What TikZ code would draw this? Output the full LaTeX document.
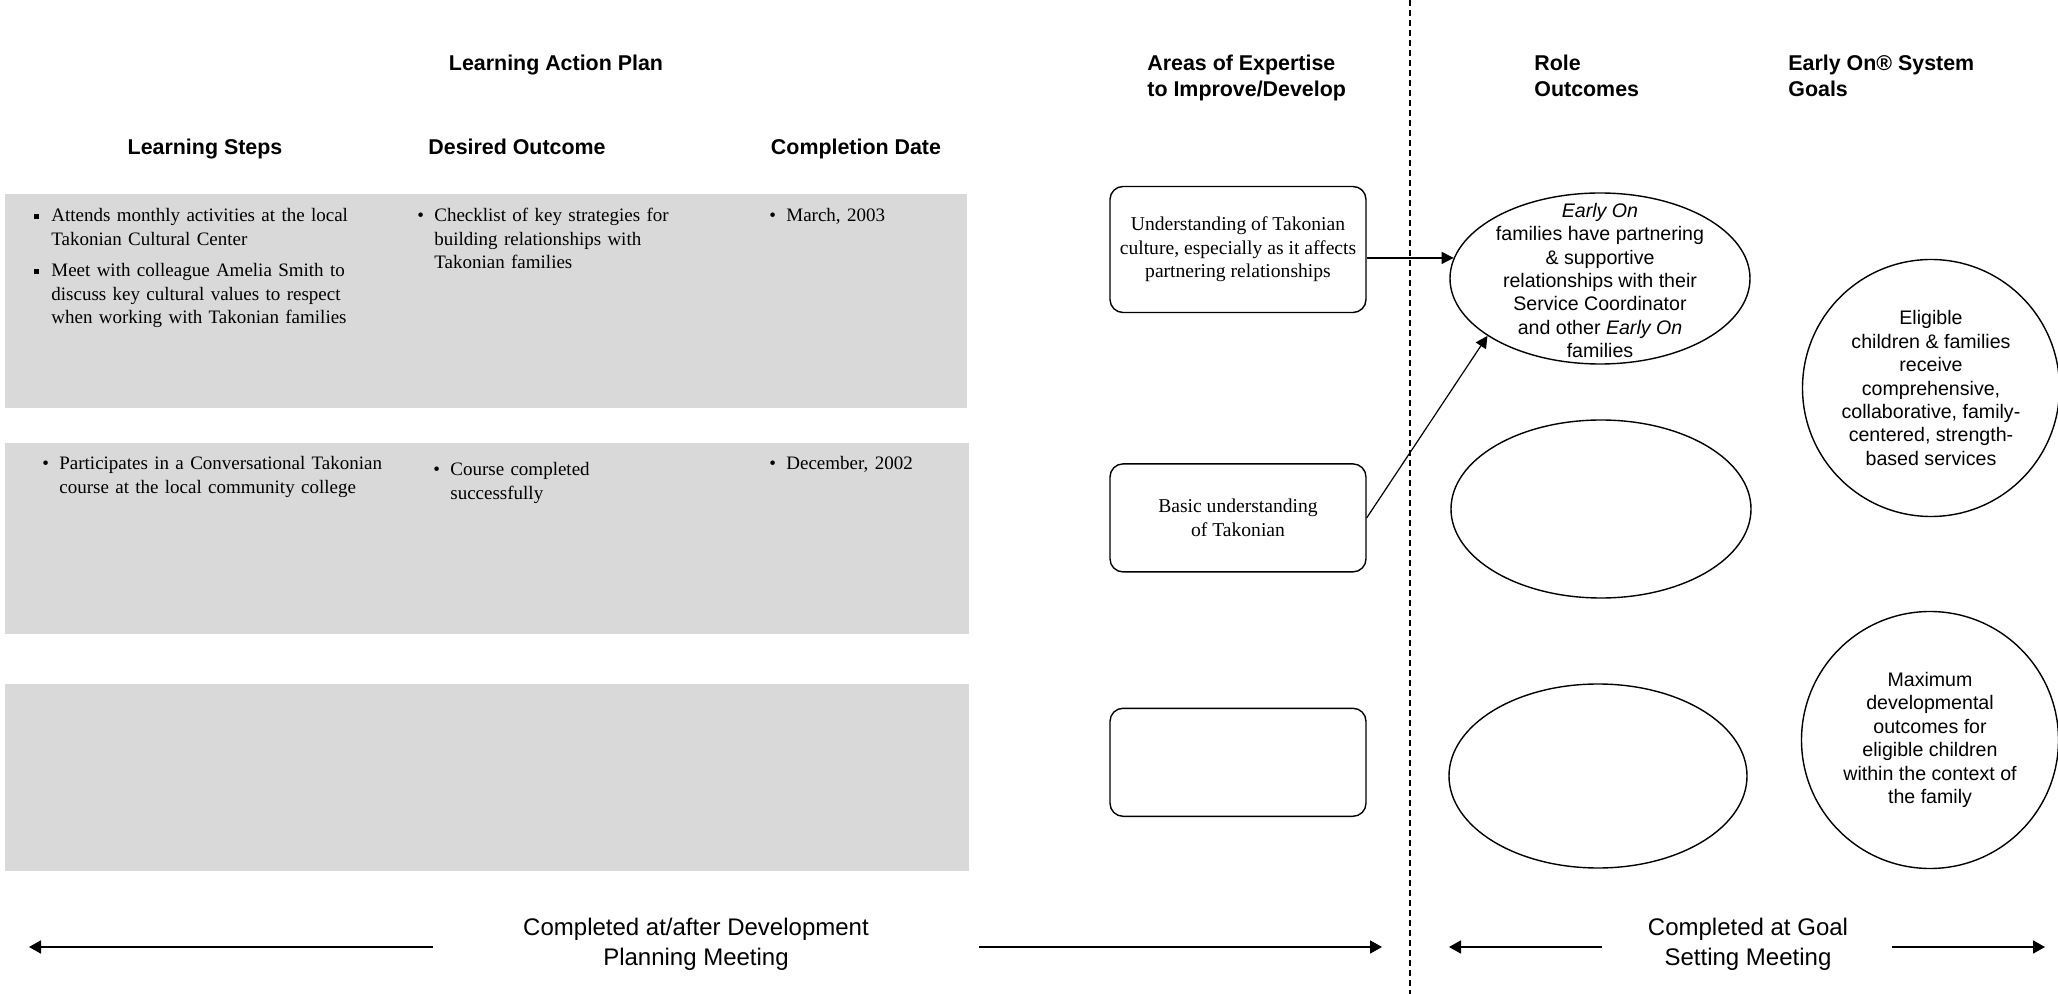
\documentclass[tikz,border=0pt]{standalone}
\usepackage{fontspec}
\setmainfont{Liberation Serif}
\setsansfont{Liberation Sans}
\usepackage{tikz}
\usetikzlibrary{positioning, arrows.meta, shapes.geometric, calc}
\definecolor{rowgray}{RGB}{217,217,217}
\newcommand{\EarlyOn}{\textit{Early On}}
\newcommand{\SqBullet}{\rule[1.6pt]{2.5pt}{2.5pt}}
\newcommand{\Item}[2]{\hangindent=8.5pt\hangafter=1\noindent\makebox[8.5pt][l]{#1}#2\par}
\tikzset{
    rowband/.style={fill=rowgray, draw=none},
    rowtext/.style={anchor=base west, inner sep=0pt, font=\fontsize{9.5}{11.7}\selectfont},
    heading/.style={font=\sffamily\bfseries\fontsize{10.7}{13}\selectfont, align=left, inner sep=0pt},
    area/.style={draw, rounded corners=6.5pt, line width=0.7pt, minimum width=128pt, align=center, font=\fontsize{9.8}{11.7}\selectfont},
    role/.style={draw, ellipse, line width=0.7pt, inner sep=0pt},
    roletext/.style={font=\sffamily\fontsize{9.8}{11.7}\selectfont, align=center, inner sep=0pt},
    span/.style={font=\sffamily\fontsize{12}{15}\selectfont, align=center},
    conn/.style={-{Triangle[length=6pt,width=6pt]}, line width=0.6pt},
    timeline/.style={-{Triangle[length=6pt,width=6.5pt]}, line width=0.9pt},
    divider/.style={dash pattern=on 3pt off 2pt, line width=0.8pt},
}
\begin{document}
\begin{tikzpicture}[x=0.5pt, y=-0.5pt]
    \useasboundingbox (0,0) rectangle (2058,994);

    % learning action plan
    \fill[rowband] (5,194) rectangle (967,408);
    \fill[rowband] (5,443) rectangle (969,634);
    \fill[rowband] (5,684) rectangle (969,871);

    \node[heading, anchor=base] (plan) at (556,71) {Learning Action Plan};
    \node[heading, anchor=base] (hsteps) at (205,155) {Learning Steps};
    \node[heading, anchor=base] (hout) at (517,155) {Desired Outcome};
    \node[heading, anchor=base] (hdate) at (856,155) {Completion Date};

    \node[rowtext, text width=185pt] (step1) at (34,222)
      {\Item{\SqBullet}{Attends monthly activities at the local\newline Takonian Cultural Center}\vspace{4pt}%
       \Item{\SqBullet}{Meet with colleague Amelia Smith to\newline discuss key cultural values to respect\newline when working with Takonian families}};
    \node[rowtext, text width=160pt] (out1) at (417,222)
      {\Item{\textbullet}{Checklist of key strategies for\newline building relationships with\newline Takonian families}};
    \node[rowtext, text width=90pt] (date1) at (769,222) {\Item{\textbullet}{March, 2003}};

    \node[rowtext, text width=190pt] (step2) at (42,470)
      {\Item{\textbullet}{Participates in a Conversational Takonian\newline course at the local community college}};
    \node[rowtext, text width=160pt] (out2) at (433,476)
      {\Item{\textbullet}{Course completed\newline successfully}};
    \node[rowtext, text width=90pt] (date2) at (769,470) {\Item{\textbullet}{December, 2002}};

    % areas of expertise
    \node[heading, anchor=west] (hareas) at (1147,78) {Areas of Expertise\\to Improve/Develop};
    \node[area, minimum height=63pt] (area1) at (1238,249.5)
      {Understanding of Takonian\\culture, especially as it affects\\partnering relationships};
    \node[area, minimum height=54pt, below=75pt of area1] (area2) {Basic understanding\\of Takonian};
    \node[area, minimum height=54pt, below=67.5pt of area2] (area3) {};

    \draw[divider] (1410,0) coordinate (divtop) -- (1410,994) coordinate (divbot);

    % role outcomes and system goals
    \node[heading, anchor=west] (hrole) at (1534,76) {Role\\Outcomes};
    \node[heading, anchor=west] (hgoal) at (1788,76) {Early On® System\\Goals};

    \node[role, minimum width=150pt, minimum height=85.5pt,
      label={[roletext, yshift=-1pt]center:{\EarlyOn\\families have partnering\\\& supportive\\relationships with their\\Service Coordinator\\and other \EarlyOn\\families}}] (role1) at (1600,278.5) {};
    \node[role, minimum width=150pt, minimum height=89pt] (role2) at (1601,509) {};
    \node[role, minimum width=149pt, minimum height=92pt] (role3) at (1598,776) {};

    \node[role, minimum size=128.5pt,
      label={[roletext]center:{Eligible\\children \& families\\receive\\comprehensive,\\collaborative, family-\\centered, strength-\\based services}}] (goal1) at (1931,388) {};
    \node[role, minimum size=128.5pt,
      label={[roletext]center:{Maximum\\developmental\\outcomes for\\eligible children\\within the context of\\the family}}] (goal2) at (1930,740) {};

    \draw[conn] (area1.east |- role1.172) -- (role1.172);
    \draw[conn] (area2.east) -- (role1.207);

    % meeting spans
    \node[span] (devspan) at (696,944) {Completed at/after Development\\Planning Meeting};
    \node[span] (goalspan) at (1748,944) {Completed at Goal\\Setting Meeting};

    \coordinate (devA) at (433,947);
    \coordinate (devB) at (29,947);
    \coordinate (devC) at (979,947);
    \coordinate (devD) at (1382,947);
    \coordinate (goalA) at (1602,947);
    \coordinate (goalB) at (1449,947);
    \coordinate (goalC) at (1892,947);
    \coordinate (goalD) at (2045,947);

    \draw[timeline] (devA) -- (devB);
    \draw[timeline] (devC) -- (devD);
    \draw[timeline] (goalA) -- (goalB);
    \draw[timeline] (goalC) -- (goalD);
\end{tikzpicture}
\end{document}
